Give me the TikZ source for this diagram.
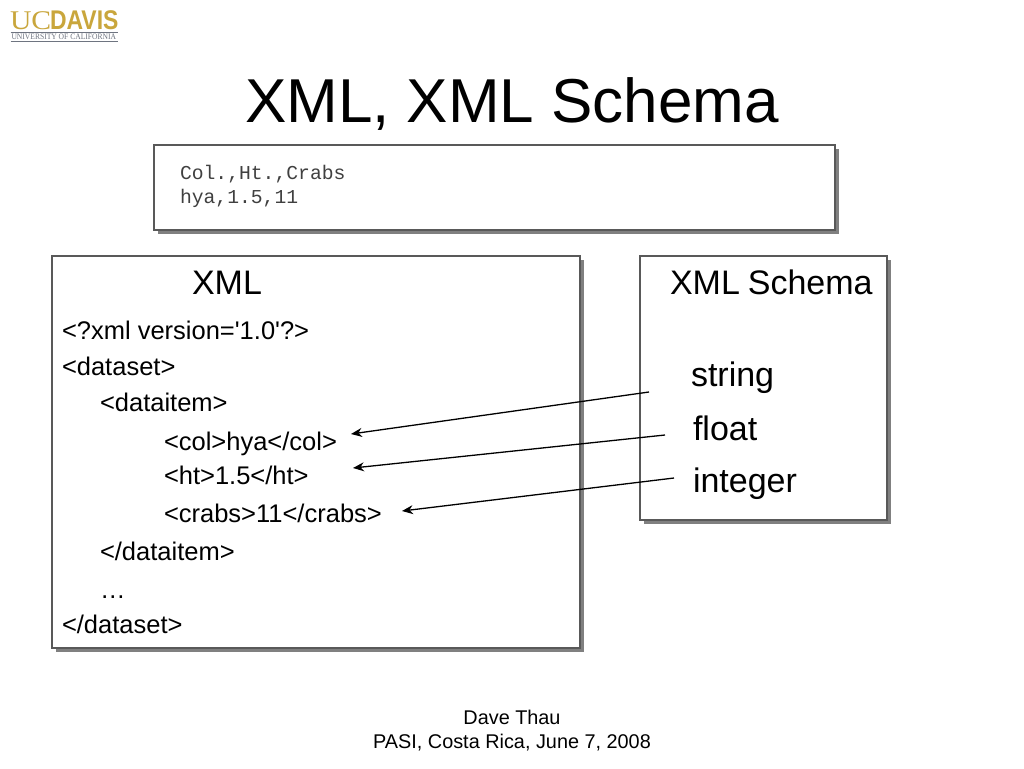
\documentclass[tikz,border=0pt]{standalone}
\usepackage{fontspec}
\setmainfont{Liberation Sans}
\newfontfamily\plainsans{Liberation Sans}
\newfontfamily\logoserif{Liberation Serif}
\setmonofont{Liberation Mono}
\usetikzlibrary{arrows.meta}
\definecolor{ucgold}{HTML}{C9A63C}
\definecolor{ucgrey}{HTML}{6E7480}
\tikzset{
  x=1pt,y=-1pt,
  panel/.style={draw=black!65,line width=1.1pt,fill=white},
  panelshadow/.style={fill=black!50,draw=none},
  txt/.style={anchor=base west,inner sep=0pt,outer sep=0pt},
  body/.style={txt,font=\plainsans\fontsize{25.5}{28}\selectfont},
  big/.style={txt,font=\fontsize{34}{38}\selectfont},
  mono/.style={txt,font=\fontsize{19.7}{22}\selectfont\ttfamily,text=black!75},
  foot/.style={anchor=base,inner sep=0pt,font=\fontsize{19.85}{24}\selectfont},
  link/.style={draw=black,line width=1.3pt,-{Stealth[length=11pt,width=9pt]}},
}
\begin{document}
\begin{tikzpicture}
\useasboundingbox (0,0) rectangle (1024,768);
\fill[white] (0,0) rectangle (1024,768);
% logo
\node[txt,text=ucgold,font=\logoserif\fontsize{27}{27}\selectfont] (logouc) at (10,30) {\scalebox{1.1}[1.0]{UC}};
\node[txt,text=ucgold,font=\fontsize{27}{27}\selectfont\bfseries] (logodavis) at (50,30) {\scalebox{0.85}[1]{DAVIS}};
\node[txt,text=ucgrey,font=\logoserif\fontsize{8.4}{9}\selectfont] (logosub) at (11.5,39.5) {\scalebox{0.9}[1]{UNIVERSITY OF CALIFORNIA}};
\draw[ucgrey,line width=0.8pt] (10.5,32) -- (118,32);
\draw[ucgrey,line width=0.8pt] (10.5,41) -- (118,41);
% title
\node[txt,font=\fontsize{62}{66}\selectfont] (title) at (245,122) {XML, XML Schema};
% top box
\fill[panelshadow] (158,149) rectangle (838.5,233.5);
\draw[panel] (154,145) rectangle (835,230);
\node[mono] (csvA) at (180,179) {Col.,Ht.,Crabs};
\node[mono] (csvB) at (180,203) {hya,1.5,11};
% xml box
\fill[panelshadow] (56,260) rectangle (583.5,651.5);
\draw[panel] (52,256) rectangle (580,648);
\node[big] (xmlhead) at (192,294) {XML};
\node[body] (l1) at (62,339) {<?xml version='1.0'?>};
\node[body] (l2) at (62,375) {<dataset>};
\node[body] (l3) at (100,411) {<dataitem>};
\node[body] (l4) at (164,450) {<col>hya</col>};
\node[body] (l5) at (164,484) {<ht>1.5</ht>};
\node[body] (l6) at (164,522) {<crabs>11</crabs>};
\node[body] (l7) at (100,560) {</dataitem>};
\node[body] (l8) at (100,598) {…};
\node[body] (l9) at (62,633) {</dataset>};
% schema box
\fill[panelshadow] (644,260) rectangle (890.5,523.5);
\draw[panel] (640,256) rectangle (887,520);
\node[big] (schemahead) at (670,294) {XML\hspace{-1.5pt} Schema};
\node[big] (tstring) at (691,386) {string};
\node[big] (tfloat) at (693,440) {float};
\node[big] (tinteger) at (693,492) {integer};
% connectors
\coordinate (aS) at (649,392); \coordinate (aE) at (351,434);
\coordinate (bS) at (665,435); \coordinate (bE) at (353,468);
\coordinate (cS) at (674,478); \coordinate (cE) at (402,511);
\draw[link] (aS) -- (aE);
\draw[link] (bS) -- (bE);
\draw[link] (cS) -- (cE);
% footer
\node[foot] (footA) at (512,724) {Dave Thau};
\node[foot] (footB) at (512,748) {PASI, Costa Rica, June 7, 2008};
\end{tikzpicture}
\end{document}
